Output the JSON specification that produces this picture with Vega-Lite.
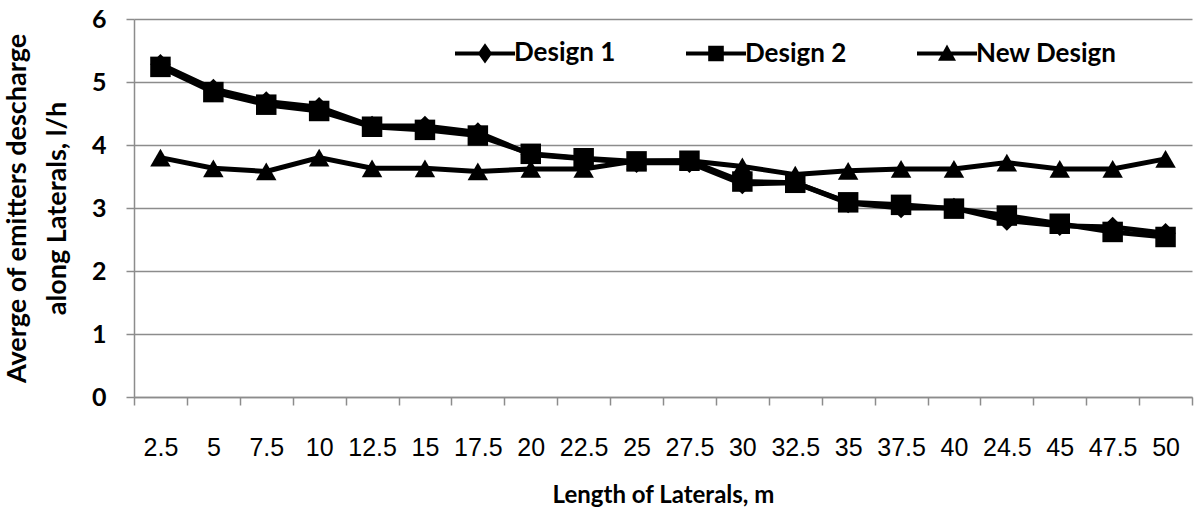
{
  "$schema": "https://vega.github.io/schema/vega-lite/v6.json",
  "width": 1058,
  "height": 378,
  "autosize": {"type": "none"},
  "padding": {"left": 134, "top": 19, "right": 3, "bottom": 115},
  "background": "white",
  "config": {"view": {"stroke": null}, "font": "Lato"},
  "data": {
    "values": [
      {"length": "2.5", "series": "Design 1", "value": 5.28},
      {"length": "5", "series": "Design 1", "value": 4.89},
      {"length": "7.5", "series": "Design 1", "value": 4.69},
      {"length": "10", "series": "Design 1", "value": 4.6},
      {"length": "12.5", "series": "Design 1", "value": 4.3},
      {"length": "15", "series": "Design 1", "value": 4.3},
      {"length": "17.5", "series": "Design 1", "value": 4.2},
      {"length": "20", "series": "Design 1", "value": 3.85},
      {"length": "22.5", "series": "Design 1", "value": 3.78},
      {"length": "25", "series": "Design 1", "value": 3.72},
      {"length": "27.5", "series": "Design 1", "value": 3.72},
      {"length": "30", "series": "Design 1", "value": 3.38},
      {"length": "32.5", "series": "Design 1", "value": 3.4},
      {"length": "35", "series": "Design 1", "value": 3.08},
      {"length": "37.5", "series": "Design 1", "value": 3.0},
      {"length": "40", "series": "Design 1", "value": 3.0},
      {"length": "24.5", "series": "Design 1", "value": 2.8},
      {"length": "45", "series": "Design 1", "value": 2.72},
      {"length": "47.5", "series": "Design 1", "value": 2.7},
      {"length": "50", "series": "Design 1", "value": 2.6},
      {"length": "2.5", "series": "Design 2", "value": 5.24},
      {"length": "5", "series": "Design 2", "value": 4.84},
      {"length": "7.5", "series": "Design 2", "value": 4.64},
      {"length": "10", "series": "Design 2", "value": 4.54},
      {"length": "12.5", "series": "Design 2", "value": 4.29},
      {"length": "15", "series": "Design 2", "value": 4.24},
      {"length": "17.5", "series": "Design 2", "value": 4.15},
      {"length": "20", "series": "Design 2", "value": 3.86},
      {"length": "22.5", "series": "Design 2", "value": 3.79},
      {"length": "25", "series": "Design 2", "value": 3.74},
      {"length": "27.5", "series": "Design 2", "value": 3.75},
      {"length": "30", "series": "Design 2", "value": 3.42},
      {"length": "32.5", "series": "Design 2", "value": 3.4},
      {"length": "35", "series": "Design 2", "value": 3.09},
      {"length": "37.5", "series": "Design 2", "value": 3.05},
      {"length": "40", "series": "Design 2", "value": 2.99},
      {"length": "24.5", "series": "Design 2", "value": 2.88},
      {"length": "45", "series": "Design 2", "value": 2.75},
      {"length": "47.5", "series": "Design 2", "value": 2.62},
      {"length": "50", "series": "Design 2", "value": 2.54},
      {"length": "2.5", "series": "New Design", "value": 3.8},
      {"length": "5", "series": "New Design", "value": 3.63},
      {"length": "7.5", "series": "New Design", "value": 3.58},
      {"length": "10", "series": "New Design", "value": 3.8},
      {"length": "12.5", "series": "New Design", "value": 3.63},
      {"length": "15", "series": "New Design", "value": 3.63},
      {"length": "17.5", "series": "New Design", "value": 3.58},
      {"length": "20", "series": "New Design", "value": 3.62},
      {"length": "22.5", "series": "New Design", "value": 3.62},
      {"length": "25", "series": "New Design", "value": 3.75},
      {"length": "27.5", "series": "New Design", "value": 3.75},
      {"length": "30", "series": "New Design", "value": 3.66},
      {"length": "32.5", "series": "New Design", "value": 3.53},
      {"length": "35", "series": "New Design", "value": 3.59},
      {"length": "37.5", "series": "New Design", "value": 3.62},
      {"length": "40", "series": "New Design", "value": 3.62},
      {"length": "24.5", "series": "New Design", "value": 3.72},
      {"length": "45", "series": "New Design", "value": 3.62},
      {"length": "47.5", "series": "New Design", "value": 3.62},
      {"length": "50", "series": "New Design", "value": 3.78}
    ]
  },
  "encoding": {
    "x": {
      "field": "length",
      "type": "ordinal",
      "sort": null,
      "scale": {"type": "band", "paddingInner": 0, "paddingOuter": 0},
      "axis": {
        "title": "Length of Laterals, m",
        "titleFont": "Lato",
        "titleFontSize": 24,
        "titleFontWeight": "bold",
        "titleColor": "black",
        "titlePadding": 23,
        "labelAngle": 0,
        "labelFont": "Liberation Sans",
        "labelFontSize": 25,
        "labelFontWeight": "normal",
        "labelColor": "black",
        "labelPadding": 30,
        "labelOverlap": false,
        "tickBand": "extent",
        "tickSize": 8,
        "tickColor": "#8c8c8c",
        "tickWidth": 1.5,
        "domainColor": "#8c8c8c",
        "domainWidth": 1.5,
        "grid": false
      }
    },
    "y": {
      "field": "value",
      "type": "quantitative",
      "scale": {"domain": [0, 6]},
      "axis": {
        "title": ["Averge of emitters descharge", "along Laterals, l/h"],
        "titleFont": "Lato",
        "titleFontSize": 27,
        "titleFontWeight": "bold",
        "titleColor": "black",
        "titlePadding": 20,
        "titleLineHeight": 40,
        "values": [0, 1, 2, 3, 4, 5, 6],
        "labelFont": "Lato",
        "labelFontSize": 25,
        "labelFontWeight": "bold",
        "labelColor": "black",
        "labelPadding": 20,
        "labelOverlap": false,
        "tickSize": 8,
        "tickColor": "#8c8c8c",
        "tickWidth": 1.5,
        "domainColor": "#8c8c8c",
        "domainWidth": 1.5,
        "grid": true,
        "gridColor": "#8c8c8c",
        "gridWidth": 1.5
      }
    }
  },
  "resolve": {"scale": {"shape": "independent"}, "legend": {"shape": "independent"}},
  "layer": [
    {
      "mark": {"type": "line", "color": "black", "strokeWidth": 5},
      "encoding": {"detail": {"field": "series", "type": "nominal"}}
    },
    {
      "mark": {"type": "point", "filled": true, "color": "black", "opacity": 1, "size": 420},
      "encoding": {
        "shape": {
          "field": "series",
          "type": "nominal",
          "scale": {"domain": ["Design 1", "Design 2", "New Design"], "range": ["diamond", "square", "triangle-up"]},
          "legend": null
        }
      }
    },
    {
      "mark": {"type": "point", "filled": true, "color": "black", "opacity": 1, "size": 0},
      "encoding": {
        "shape": {
          "field": "series",
          "type": "nominal",
          "scale": {
            "domain": ["Design 1", "Design 2", "New Design"],
            "range": [
              "M-1,-0.067H1V0.067H-1ZM-0.24,0L0,-0.34L0.24,0L0,0.34Z",
              "M-1,-0.067H1V0.067H-1ZM-0.26,-0.26H0.26V0.26H-0.26Z",
              "M-1,-0.067H1V0.067H-1ZM-0.3,0.24L0,-0.3L0.3,0.24Z"
            ]
          },
          "legend": {
            "title": null,
            "orient": "none",
            "direction": "horizontal",
            "legendX": 320,
            "legendY": 3,
            "symbolSize": 3600,
            "symbolFillColor": "black",
            "symbolOpacity": 1,
            "labelFont": "Lato",
            "labelFontSize": 26,
            "labelFontWeight": "bold",
            "labelColor": "black",
            "labelOffset": -2,
            "columnPadding": 67
          }
        }
      }
    }
  ]
}
